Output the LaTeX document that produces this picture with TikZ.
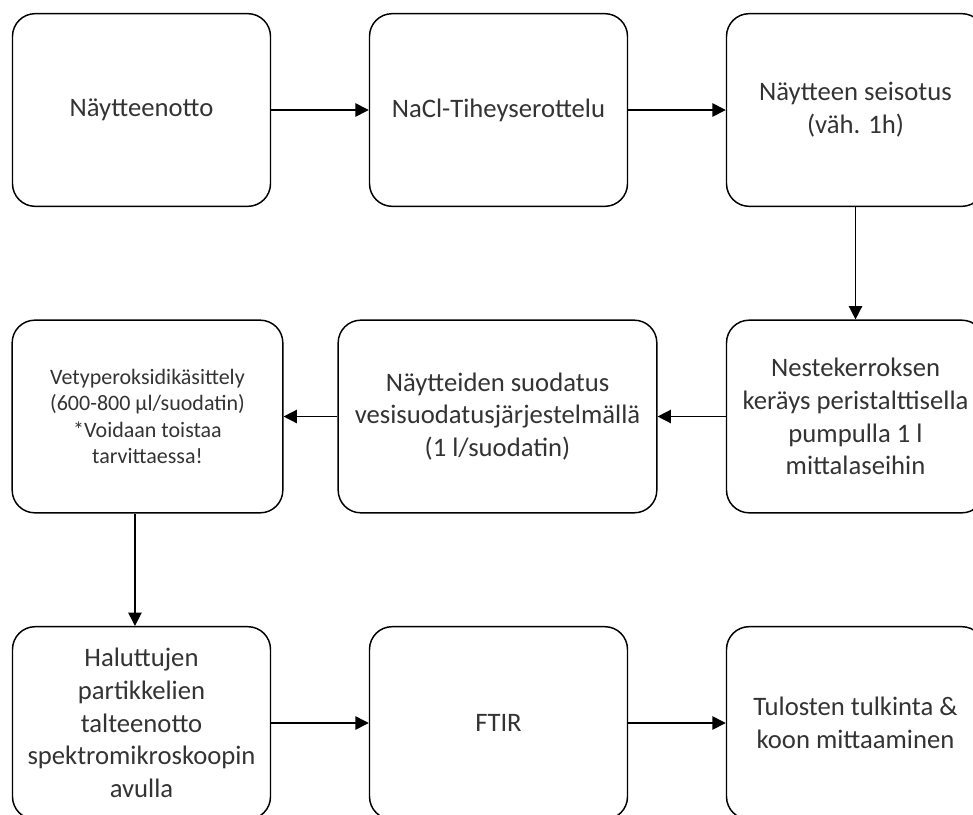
\documentclass[tikz,border=0pt]{standalone}
\usepackage{fontspec}
\setmainfont{Carlito}
\usetikzlibrary{arrows.meta}
\definecolor{txtgray}{HTML}{333333}

\begin{document}
\begin{tikzpicture}[x = 0.75pt, y = -0.75pt,
blk/.style = {draw, line width = 1.1pt, rounded corners = 17pt, minimum width = 193.5pt, minimum height = 144.5pt, align = center, text = txtgray, inner sep = 0pt, font = \fontsize{20}{24.5}\selectfont},
arr/.style = {-{Triangle[length = 10pt, width = 10pt]}, line width = 1.1pt}]
\clip (0,0) rectangle (973,814);
\node[blk] (N1) at (141.5,110) {Näytteenotto};
\node[blk] (N2) at (498.5,110) {NaCl-Tiheyserottelu};
\node[blk] (N3) at (855.5,110) {Näytteen seisotus\\(väh. 1h)};
\node[blk, minimum width = 203pt, font = \fontsize{16.5}{19.6}\selectfont] (N4) at (147.5,416.5) {Vetyperoksidikäsittely\\(600-800 µl/suodatin)\\*Voidaan toistaa\\tarvittaessa!};
\node[blk, minimum width = 239pt] (N5) at (497.5,416.5) {Näytteiden suodatus\\vesisuodatusjärjestelmällä\\(1 l/suodatin)};
\node[blk] (N6) at (855.5,416.5) {Nestekerroksen\\keräys peristalttisella\\pumpulla 1 l\\mittalaseihin};
\node[blk] (N7) at (141.5,723) {Haluttujen\\partikkelien\\talteenotto\\spektromikroskoopin\\avulla};
\node[blk] (N8) at (498.5,723) {FTIR};
\node[blk] (N9) at (855.5,723) {Tulosten tulkinta \&\\koon mittaaminen};

\draw[arr] (N1) -- (N2);
\draw[arr] (N2) -- (N3);
\draw[arr] (N3) -- (N6);
\draw[arr] (N6) -- (N5);
\draw[arr] (N5) -- (N4);
\draw[arr] ([xshift = -4.9pt]N7.north |- N4.south) -- ([xshift = -4.9pt]N7.north);
\draw[arr] (N7) -- (N8);
\draw[arr] (N8) -- (N9);
\end{tikzpicture}
\end{document}
